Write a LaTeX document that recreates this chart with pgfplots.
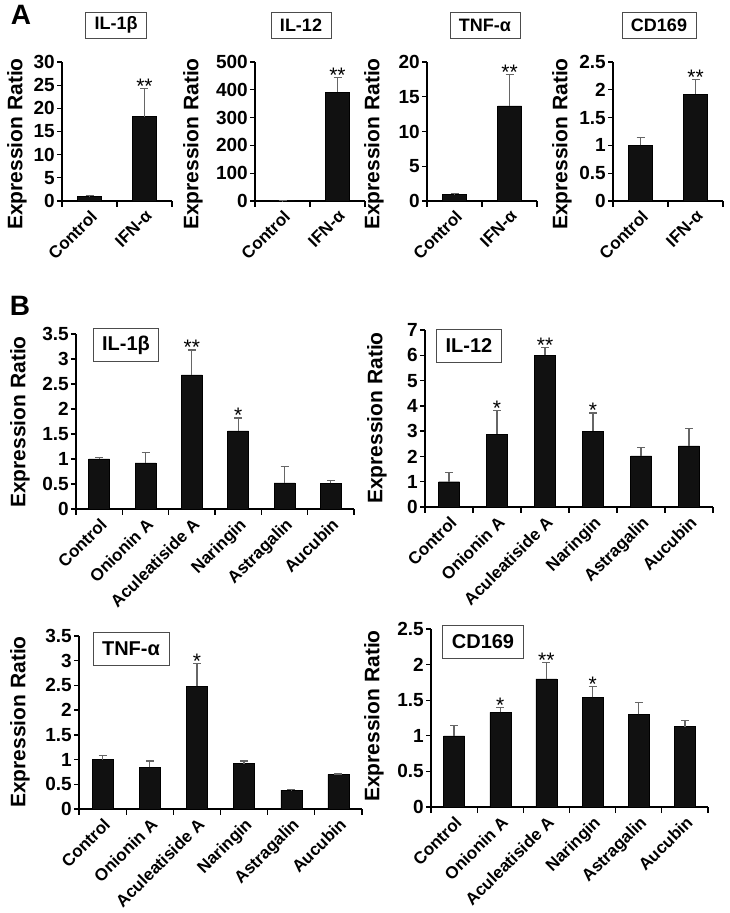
\documentclass[border=0pt]{standalone}
\usepackage{fontspec}
\setmainfont{Liberation Sans}
\usepackage{pgfplots}
\pgfplotsset{compat=1.18}
\definecolor{barfill}{HTML}{111111}
\definecolor{errcol}{HTML}{666666}
\pgfplotsset{
 barchart/.style={
  scale only axis, anchor=south west,
  axis x line=bottom, axis y line=left, axis line style={-, line width=1.3pt},
  ybar, bar width=#1, ymin=0,
  cycle list={{fill=barfill, draw=black, line width=0.5pt}},
  tick align=outside, major tick length=5pt, minor tick length=6pt,
  major x tick style={draw=none},
  minor x tick style={line width=1.3pt, black},
  y tick style={line width=1.3pt, black},
  /pgf/number format/assume math mode=true,
  yticklabel={\bfseries\pgfmathprintnumber{\tick}},
  yticklabel style={font=\bfseries\fontsize{19}{19}\selectfont, inner sep=2pt},
  xticklabel style={font=\bfseries\fontsize{17}{17}\selectfont, rotate=45, anchor=north east, inner sep=2pt},
  enlarge x limits=false, clip=false,
  error bars/y dir=plus, error bars/y explicit,
  error bars/error bar style={line width=1.2pt, errcol},
  error bars/error mark options={rotate=90, mark size=4pt, line width=1.2pt, errcol},
 },
 twocat/.style={barchart=24pt, xmin=-0.5, xmax=1.5, xtick={0,1}, minor xtick={-0.5,0.5,1.5},
   xticklabels={Control, IFN-α}, width=110pt, height=139pt},
 sixcat/.style={barchart=21pt, xmin=-0.5, xmax=5.5, xtick={0,...,5}, minor xtick={-0.5,0.5,...,5.5},
   xticklabels={Control, Onionin A, Aculeatiside A, Naringin, Astragalin, Aucubin}},
}
\tikzset{
 star/.style={anchor=base, yshift=-5pt, font=\fontsize{21}{21}\selectfont},
 ylab/.style={rotate=90, font=\bfseries\fontsize{21}{21}\selectfont},
 titleA/.style={draw=black!70, line width=0.8pt, fill=white, font=\bfseries\fontsize{18}{18}\selectfont, inner xsep=9pt, minimum height=26pt},
 titleB/.style={draw=black!70, line width=0.8pt, fill=white, font=\bfseries\fontsize{20}{20}\selectfont, inner xsep=9pt, minimum height=33pt},
}
\begin{document}
\begin{tikzpicture}[x=1pt,y=1pt]
\path[use as bounding box] (0,0) rectangle (730,913);
% ---------------- Panel A ----------------
\begin{axis}[twocat, at={(62pt,712pt)}, ymax=30, ytick={0,5,...,30}]
\addplot coordinates {(0,1.0) +- (0,0.1) (1,18.2) +- (0,6.1)};
\node[star] at (axis cs:1,24.3) {**};
\end{axis}
\begin{axis}[twocat, at={(255pt,712pt)}, ymax=500, ytick={0,100,...,500}]
\addplot coordinates {(0,1.0) +- (0,0.5) (1,392) +- (0,52)};
\node[star] at (axis cs:1,444) {**};
\end{axis}
\begin{axis}[twocat, at={(427pt,712pt)}, ymax=20, ytick={0,5,...,20}]
\addplot coordinates {(0,1.0) +- (0,0.05) (1,13.7) +- (0,4.5)};
\node[star] at (axis cs:1,18.2) {**};
\end{axis}
\begin{axis}[twocat, at={(613pt,712pt)}, ymax=2.5, ytick={0,0.5,...,2.5}]
\addplot coordinates {(0,1.0) +- (0,0.14) (1,1.92) +- (0,0.26)};
\node[star] at (axis cs:1,2.18) {**};
\end{axis}
% ---------------- Panel B ----------------
\begin{axis}[sixcat, at={(76pt,404pt)}, width=278pt, height=175pt, ymax=3.5, ytick={0,0.5,...,3.5}]
\addplot coordinates {(0,1.0) +- (0,0.03) (1,0.92) +- (0,0.21) (2,2.68) +- (0,0.50)
  (3,1.56) +- (0,0.26) (4,0.52) +- (0,0.33) (5,0.51) +- (0,0.06)};
\node[star] at (axis cs:2,3.18) {**};
\node[star] at (axis cs:3,1.82) {*};
\end{axis}
\begin{axis}[sixcat, at={(425pt,406pt)}, width=288pt, height=177pt, ymax=7, ytick={0,1,...,7}]
\addplot coordinates {(0,1.0) +- (0,0.36) (1,2.88) +- (0,0.94) (2,6.0) +- (0,0.31)
  (3,3.0) +- (0,0.72) (4,2.02) +- (0,0.34) (5,2.42) +- (0,0.70)};
\node[star] at (axis cs:1,3.82) {*};
\node[star] at (axis cs:2,6.31) {**};
\node[star] at (axis cs:3,3.72) {*};
\end{axis}
\begin{axis}[sixcat, at={(79pt,104pt)}, width=283pt, height=173pt, ymax=3.5, ytick={0,0.5,...,3.5}]
\addplot coordinates {(0,1.0) +- (0,0.09) (1,0.84) +- (0,0.13) (2,2.48) +- (0,0.46)
  (3,0.92) +- (0,0.05) (4,0.38) +- (0,0.01) (5,0.70) +- (0,0.01)};
\node[star] at (axis cs:2,2.95) {*};
\end{axis}
\begin{axis}[sixcat, at={(431pt,106pt)}, width=277pt, height=178pt, ymax=2.5, ytick={0,0.5,...,2.5}]
\addplot coordinates {(0,1.0) +- (0,0.15) (1,1.33) +- (0,0.07) (2,1.80) +- (0,0.23)
  (3,1.54) +- (0,0.15) (4,1.30) +- (0,0.17) (5,1.13) +- (0,0.08)};
\node[star] at (axis cs:1,1.40) {*};
\node[star] at (axis cs:2,2.03) {**};
\node[star] at (axis cs:3,1.69) {*};
\end{axis}
% ---------------- labels ----------------
\node[font=\bfseries\fontsize{28}{28}\selectfont] at (21,898) {A};
\node[font=\bfseries\fontsize{28}{28}\selectfont] at (20,607) {B};
\node[titleA] at (116,888) {IL-1β};
\node[titleA] at (301,888) {IL-12};
\node[titleA] at (485,888) {TNF-α};
\node[titleA] at (659,888) {CD169};
\node[titleB] at (126,568) {IL-1β};
\node[titleB] at (469,567) {IL-12};
\node[titleB] at (131,264) {TNF-α};
\node[titleB] at (483,271) {CD169};
\node[ylab] at (17,769) {Expression Ratio};
\node[ylab] at (193,769) {Expression Ratio};
\node[ylab] at (374,769) {Expression Ratio};
\node[ylab] at (562,769) {Expression Ratio};
\node[ylab] at (20,491) {Expression Ratio};
\node[ylab] at (377,495) {Expression Ratio};
\node[ylab] at (20,191) {Expression Ratio};
\node[ylab] at (374,197) {Expression Ratio};
\end{tikzpicture}
\end{document}
